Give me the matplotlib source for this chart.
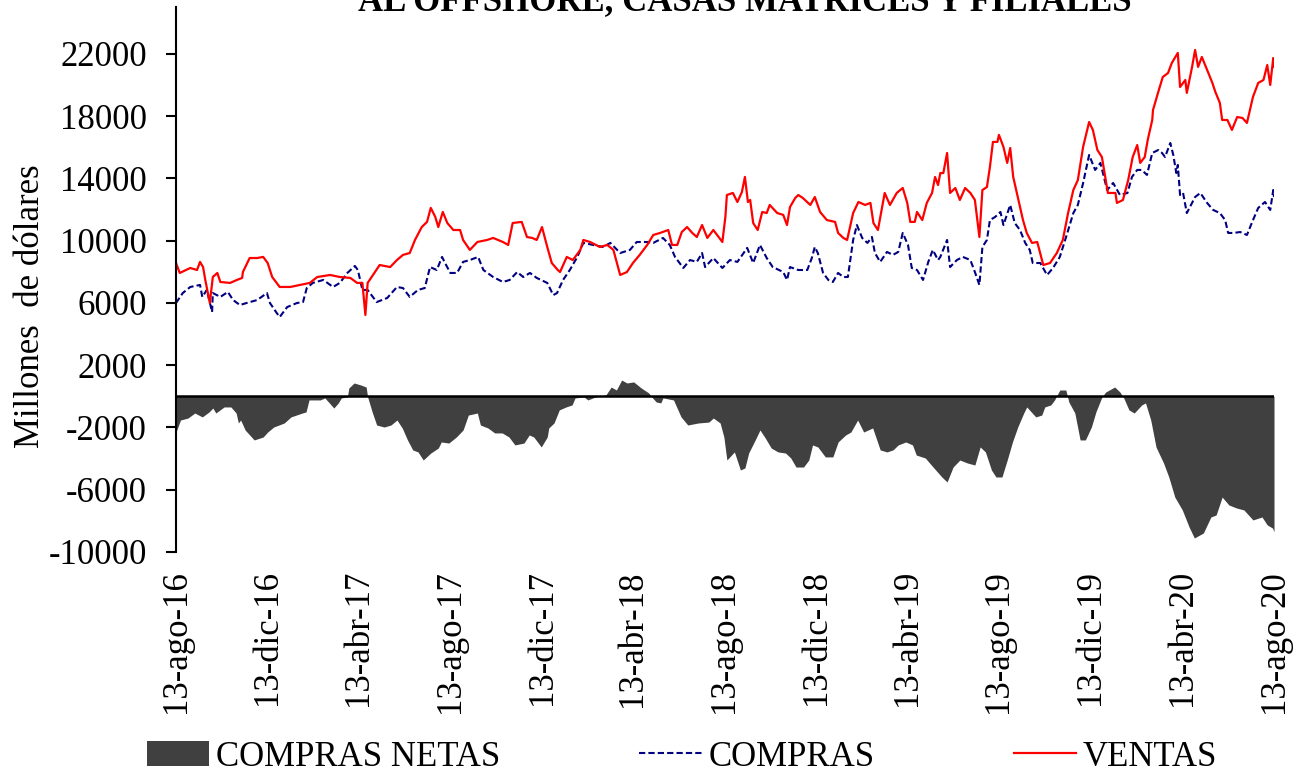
import matplotlib
matplotlib.use("Agg")
import matplotlib.pyplot as plt
import pandas as pd

plt.rcParams['font.family'] = ['Liberation Serif', 'DejaVu Serif']
plt.rcParams['axes.unicode_minus'] = False

# ---- Datos (millones de dólares) ----
ventas_fechas = [
    "2016-08-13", "2016-08-18", "2016-09-01", "2016-09-10", "2016-09-14", "2016-09-18", "2016-09-21",
    "2016-09-27", "2016-10-01", "2016-10-07", "2016-10-11", "2016-10-24", "2016-11-02", "2016-11-09",
    "2016-11-10", "2016-11-19", "2016-11-29", "2016-12-07", "2016-12-13", "2016-12-19", "2016-12-29",
    "2017-01-12", "2017-01-25", "2017-02-07", "2017-02-17", "2017-03-06", "2017-03-19", "2017-04-02",
    "2017-04-11", "2017-04-18", "2017-04-22", "2017-04-25", "2017-05-11", "2017-05-25", "2017-06-03",
    "2017-06-11", "2017-06-20", "2017-06-27", "2017-07-06", "2017-07-13", "2017-07-18", "2017-07-24",
    "2017-07-28", "2017-08-03", "2017-08-09", "2017-08-17", "2017-08-26", "2017-08-30", "2017-09-08",
    "2017-09-18", "2017-10-01", "2017-10-09", "2017-10-22", "2017-10-29", "2017-11-04", "2017-11-16",
    "2017-11-23", "2017-11-30", "2017-12-06", "2017-12-13", "2017-12-20", "2017-12-26", "2018-01-03",
    "2018-01-06", "2018-01-15", "2018-01-23", "2018-02-02", "2018-02-06", "2018-02-15", "2018-02-28",
    "2018-03-10", "2018-03-18", "2018-03-27", "2018-04-05", "2018-04-13", "2018-04-22", "2018-05-02",
    "2018-05-10", "2018-05-19", "2018-05-30", "2018-06-04", "2018-06-11", "2018-06-17", "2018-06-24",
    "2018-07-01", "2018-07-07", "2018-07-14", "2018-07-21", "2018-07-29", "2018-08-10", "2018-08-14",
    "2018-08-16", "2018-08-24", "2018-08-30", "2018-09-05", "2018-09-09", "2018-09-13", "2018-09-16",
    "2018-09-20", "2018-09-26", "2018-10-02", "2018-10-08", "2018-10-12", "2018-10-22", "2018-10-30",
    "2018-11-04", "2018-11-08", "2018-11-15", "2018-11-19", "2018-11-25", "2018-12-05", "2018-12-11",
    "2018-12-18", "2018-12-27", "2019-01-07", "2019-01-11", "2019-01-18", "2019-01-23", "2019-01-31",
    "2019-02-07", "2019-02-16", "2019-02-23", "2019-02-27", "2019-03-05", "2019-03-14", "2019-03-21",
    "2019-03-30", "2019-04-07", "2019-04-13", "2019-04-17", "2019-04-23", "2019-04-26", "2019-05-03",
    "2019-05-09", "2019-05-16", "2019-05-20", "2019-05-24", "2019-05-27", "2019-05-31", "2019-06-05",
    "2019-06-09", "2019-06-16", "2019-06-22", "2019-06-29", "2019-07-06", "2019-07-12", "2019-07-18",
    "2019-07-22", "2019-07-28", "2019-08-01", "2019-08-05", "2019-08-11", "2019-08-13", "2019-08-19",
    "2019-08-24", "2019-08-28", "2019-09-01", "2019-09-07", "2019-09-14", "2019-09-19", "2019-09-26",
    "2019-10-03", "2019-10-11", "2019-10-20", "2019-10-29", "2019-11-06", "2019-11-13", "2019-11-20",
    "2019-11-26", "2019-12-03", "2019-12-11", "2019-12-16", "2019-12-22", "2019-12-28", "2020-01-01",
    "2020-01-05", "2020-01-15", "2020-01-17", "2020-01-25", "2020-02-01", "2020-02-07", "2020-02-13",
    "2020-02-17", "2020-02-23", "2020-02-27", "2020-03-04", "2020-03-05", "2020-03-12", "2020-03-18",
    "2020-03-25", "2020-03-30", "2020-04-03", "2020-04-07", "2020-04-10", "2020-04-17", "2020-04-19",
    "2020-04-26", "2020-04-30", "2020-05-04", "2020-05-09", "2020-05-16", "2020-05-23", "2020-05-27",
    "2020-06-02", "2020-06-05", "2020-06-12", "2020-06-18", "2020-06-25", "2020-07-02", "2020-07-08",
    "2020-07-16", "2020-07-23", "2020-07-30", "2020-08-04", "2020-08-08", "2020-08-12", "2020-08-13",
]
ventas = [
    8570, 7930, 8250, 8120, 8640, 8310, 7480,
    6000, 7670, 7930, 7350, 7290, 7480, 7610,
    7990, 8890, 8890, 8960, 8570, 7670, 7030,
    7030, 7160, 7290, 7670, 7800, 7670, 7610,
    7290, 7290, 5230, 7290, 8440, 8310, 8760,
    9090, 9210, 10050, 10880, 11210, 12110, 11530,
    10880, 11850, 11140, 10690, 10690, 10050, 9410,
    9920, 10050, 10180, 9920, 9730, 11140, 11210,
    10240, 10180, 10050, 10880, 9600, 8570, 8120,
    7990, 8960, 8760, 9410, 10050, 9920, 9600,
    9730, 9410, 7800, 7990, 8570, 9090, 9730,
    10370, 10500, 10690, 9730, 9730, 10560, 10880,
    10500, 10240, 11010, 10180, 10690, 9920, 11530,
    12940, 13070, 12490, 13130, 14100, 12490, 12620,
    11140, 10690, 11850, 11780, 12300, 11780, 11660,
    11010, 12170, 12750, 12940, 12750, 12300, 12810,
    11850, 11330, 11210, 10500, 10180, 10050, 11780,
    12490, 12300, 12430, 11140, 10690, 13070, 12300,
    13070, 13390, 12430, 11210, 11210, 11850, 11330,
    12430, 13070, 14100, 13580, 14350, 14350, 15640,
    13070, 13390, 12620, 13390, 13070, 12620, 10240,
    13260, 13450, 14740, 16350, 16350, 16800, 16030,
    15000, 15960, 14100, 12810, 11330, 10500, 9860,
    9920, 8440, 8570, 9210, 10050, 11780, 13260,
    13900, 16030, 17630, 17120, 15830, 15380, 14230,
    13070, 13070, 12430, 12620, 13900, 15380, 16150,
    15000, 15380, 16480, 17760, 18400, 19560, 20520,
    20780, 21420, 21740, 22070, 19880, 20330, 19500,
    21170, 22260, 21170, 21810, 20970, 20140, 19560,
    18850, 17760, 17760, 17120, 17950, 17890, 17570,
    19240, 20140, 20330, 21290, 20010, 21740, 21170,
]

compras_fechas = [
    "2016-08-13", "2016-08-22", "2016-09-01", "2016-09-14", "2016-09-17", "2016-09-23", "2016-09-30",
    "2016-10-01", "2016-10-11", "2016-10-21", "2016-10-28", "2016-11-06", "2016-11-15", "2016-11-29",
    "2016-12-12", "2016-12-16", "2016-12-25", "2016-12-29", "2017-01-08", "2017-01-21", "2017-01-29",
    "2017-02-03", "2017-02-11", "2017-02-25", "2017-03-10", "2017-03-19", "2017-03-29", "2017-04-08",
    "2017-04-12", "2017-04-18", "2017-04-25", "2017-05-07", "2017-05-21", "2017-06-03", "2017-06-11",
    "2017-06-20", "2017-07-01", "2017-07-10", "2017-07-17", "2017-07-26", "2017-08-02", "2017-08-06",
    "2017-08-13", "2017-08-22", "2017-08-30", "2017-09-08", "2017-09-19", "2017-09-26", "2017-10-09",
    "2017-10-22", "2017-10-31", "2017-11-10", "2017-11-18", "2017-11-27", "2017-12-06", "2017-12-20",
    "2017-12-28", "2018-01-02", "2018-01-10", "2018-01-19", "2018-01-29", "2018-02-06", "2018-02-19",
    "2018-03-04", "2018-03-14", "2018-03-27", "2018-04-09", "2018-04-18", "2018-05-02", "2018-05-10",
    "2018-05-23", "2018-06-01", "2018-06-08", "2018-06-19", "2018-06-28", "2018-07-07", "2018-07-14",
    "2018-07-18", "2018-07-29", "2018-08-10", "2018-08-20", "2018-08-30", "2018-09-12", "2018-09-20",
    "2018-09-29", "2018-10-08", "2018-10-16", "2018-10-30", "2018-11-04", "2018-11-08", "2018-11-19",
    "2018-12-01", "2018-12-07", "2018-12-11", "2018-12-15", "2018-12-22", "2018-12-29", "2019-01-04",
    "2019-01-11", "2019-01-18", "2019-01-24", "2019-01-31", "2019-02-05", "2019-02-12", "2019-02-19",
    "2019-02-25", "2019-03-01", "2019-03-08", "2019-03-17", "2019-03-25", "2019-04-01", "2019-04-07",
    "2019-04-14", "2019-04-19", "2019-04-26", "2019-05-04", "2019-05-11", "2019-05-17", "2019-05-24",
    "2019-05-27", "2019-06-05", "2019-06-09", "2019-06-18", "2019-06-26", "2019-07-06", "2019-07-12",
    "2019-07-18", "2019-07-22", "2019-07-28", "2019-08-01", "2019-08-08", "2019-08-15", "2019-08-19",
    "2019-08-28", "2019-09-03", "2019-09-10", "2019-09-17", "2019-09-23", "2019-09-27", "2019-10-07",
    "2019-10-16", "2019-10-24", "2019-11-02", "2019-11-12", "2019-11-20", "2019-11-26", "2019-12-03",
    "2019-12-11", "2019-12-19", "2019-12-26", "2020-01-04", "2020-01-12", "2020-01-21", "2020-01-31",
    "2020-02-06", "2020-02-13", "2020-02-19", "2020-02-26", "2020-03-04", "2020-03-12", "2020-03-17",
    "2020-03-21", "2020-03-28", "2020-04-01", "2020-04-05", "2020-04-07", "2020-04-10", "2020-04-14",
    "2020-04-19", "2020-04-26", "2020-04-30", "2020-05-07", "2020-05-16", "2020-05-24", "2020-06-02",
    "2020-06-09", "2020-06-13", "2020-06-20", "2020-06-29", "2020-07-08", "2020-07-15", "2020-07-23",
    "2020-08-01", "2020-08-08", "2020-08-12", "2020-08-13",
]
compras = [
    6000, 6640, 7030, 7160, 6390, 6840, 5420,
    6640, 6390, 6710, 6190, 5870, 6000, 6190,
    6640, 6000, 5360, 5100, 5740, 6000, 6060,
    6960, 7290, 7480, 7030, 7290, 7930, 8380,
    8120, 6840, 6840, 6060, 6320, 7030, 6960,
    6390, 6840, 6960, 8310, 8120, 8960, 8570,
    7930, 7930, 8640, 8760, 8960, 8120, 7670,
    7350, 7480, 7990, 7670, 7930, 7610, 7290,
    6510, 6640, 7480, 8120, 8960, 9860, 9730,
    9600, 9860, 9210, 9410, 9920, 9920, 9860,
    10180, 9730, 8960, 8250, 8760, 8640, 9210,
    8310, 8890, 8250, 8760, 8640, 9540, 8570,
    9730, 8890, 8310, 7990, 7480, 8310, 8120,
    8120, 8890, 9600, 9210, 7930, 7480, 7350,
    7930, 7670, 7670, 10050, 11010, 10180, 9860,
    10240, 9210, 8640, 9280, 9090, 9280, 10500,
    9730, 8250, 8120, 7480, 8640, 9410, 8760,
    8960, 10050, 8310, 8760, 8960, 8760, 7990,
    7160, 9600, 10050, 11330, 11530, 11850, 11010,
    12300, 11140, 10690, 9860, 9410, 8570, 8570,
    7800, 8250, 8960, 10500, 11780, 12300, 13710,
    15510, 14550, 15000, 13260, 13710, 12940, 13070,
    14100, 14550, 14550, 14230, 15640, 15830, 15640,
    15380, 16280, 15510, 14350, 14870, 12940, 13070,
    11780, 12430, 12810, 13070, 12430, 11980, 11780,
    11330, 10500, 10500, 10560, 10370, 11210, 12110,
    12490, 11980, 13260, 12810,
]

netas_fechas = [
    "2016-08-13", "2016-08-19", "2016-08-29", "2016-09-07", "2016-09-17", "2016-09-26", "2016-10-01",
    "2016-10-05", "2016-10-16", "2016-10-25", "2016-11-01", "2016-11-04", "2016-11-07", "2016-11-13",
    "2016-11-25", "2016-12-07", "2016-12-13", "2016-12-21", "2017-01-04", "2017-01-13", "2017-01-28",
    "2017-02-02", "2017-02-06", "2017-02-21", "2017-02-27", "2017-03-05", "2017-03-11", "2017-03-17",
    "2017-03-21", "2017-03-29", "2017-03-31", "2017-04-07", "2017-04-16", "2017-04-23", "2017-04-25",
    "2017-05-01", "2017-05-07", "2017-05-17", "2017-05-26", "2017-06-03", "2017-06-10", "2017-06-17",
    "2017-06-24", "2017-07-01", "2017-07-08", "2017-07-18", "2017-07-28", "2017-08-01", "2017-08-11",
    "2017-08-21", "2017-08-30", "2017-09-06", "2017-09-18", "2017-09-22", "2017-10-02", "2017-10-11",
    "2017-10-21", "2017-10-30", "2017-11-07", "2017-11-19", "2017-11-26", "2017-12-02", "2017-12-12",
    "2017-12-20", "2017-12-22", "2017-12-29", "2018-01-05", "2018-01-14", "2018-01-22", "2018-01-26",
    "2018-02-07", "2018-02-12", "2018-02-22", "2018-03-08", "2018-03-15", "2018-03-22", "2018-03-29",
    "2018-04-05", "2018-04-14", "2018-04-24", "2018-05-04", "2018-05-08", "2018-05-14", "2018-05-20",
    "2018-05-23", "2018-06-06", "2018-06-16", "2018-06-25", "2018-07-09", "2018-07-23", "2018-07-29",
    "2018-08-07", "2018-08-12", "2018-08-16", "2018-08-26", "2018-09-03", "2018-09-09", "2018-09-14",
    "2018-09-24", "2018-09-29", "2018-10-06", "2018-10-14", "2018-10-23", "2018-11-02", "2018-11-09",
    "2018-11-16", "2018-11-26", "2018-12-03", "2018-12-08", "2018-12-15", "2018-12-25", "2019-01-04",
    "2019-01-11", "2019-01-21", "2019-01-28", "2019-02-06", "2019-02-14", "2019-02-26", "2019-03-08",
    "2019-03-17", "2019-03-25", "2019-04-01", "2019-04-11", "2019-04-20", "2019-04-25", "2019-05-07",
    "2019-05-15", "2019-05-29", "2019-06-05", "2019-06-13", "2019-06-22", "2019-07-02", "2019-07-12",
    "2019-07-19", "2019-07-26", "2019-08-03", "2019-08-09", "2019-08-17", "2019-08-24", "2019-08-31",
    "2019-09-07", "2019-09-15", "2019-09-19", "2019-10-01", "2019-10-09", "2019-10-13", "2019-10-21",
    "2019-10-26", "2019-11-02", "2019-11-10", "2019-11-14", "2019-11-22", "2019-11-29", "2019-12-06",
    "2019-12-14", "2019-12-20", "2019-12-28", "2020-01-02", "2020-01-14", "2020-01-21", "2020-01-26",
    "2020-02-02", "2020-02-09", "2020-02-19", "2020-02-24", "2020-03-02", "2020-03-09", "2020-03-19",
    "2020-03-26", "2020-04-03", "2020-04-13", "2020-04-22", "2020-04-29", "2020-05-11", "2020-05-21",
    "2020-05-28", "2020-06-05", "2020-06-14", "2020-06-24", "2020-07-04", "2020-07-16", "2020-07-28",
    "2020-08-04", "2020-08-11", "2020-08-13",
]
compras_netas = [
    -2290, -1520, -1390, -1070, -1320, -1000, -750,
    -1070, -680, -680, -1070, -1710, -1520, -2160,
    -2800, -2610, -2290, -1970, -1710, -1320, -1070,
    -1000, -230, -230, -100, -420, -750, -420,
    -100, -40, 540, 860, 730, 600, -40,
    -1000, -1840, -1970, -1840, -1520, -2030, -2800,
    -3440, -3570, -4090, -3640, -3320, -2930, -3000,
    -2610, -2160, -1200, -1070, -1840, -2030, -2350,
    -2350, -2610, -3120, -3000, -2480, -2610, -3250,
    -2610, -2030, -1710, -870, -680, -550, -100,
    -40, -230, -40, 90, 600, 410, 1050,
    860, 930, 540, 220, -40, -360, -420,
    -100, -230, -1320, -1840, -1710, -1650, -1390,
    -1710, -2610, -4090, -3570, -4730, -4600, -3640,
    -2670, -2160, -2670, -3320, -3570, -3640, -3960,
    -4540, -4540, -4090, -3120, -3250, -3890, -3890,
    -2930, -2480, -2290, -1520, -2290, -2030, -3440,
    -3570, -3440, -3120, -2930, -3120, -3770, -3960,
    -4410, -5180, -5500, -4540, -4090, -4280, -4410,
    -3250, -3570, -4730, -5180, -5180, -4090, -2930,
    -1970, -1070, -680, -1320, -1200, -680, -550,
    -230, 410, 410, -360, -1070, -2800, -2800,
    -1970, -1000, -40, 280, 600, 280, -100,
    -870, -1070, -550, -420, -1520, -3250, -4280,
    -5180, -6470, -7300, -8390, -9100, -8780, -7750,
    -7620, -6470, -6980, -7170, -7300, -7940, -7750,
    -8260, -8460, -8700,
]

ticks_fechas = ["2016-08-13", "2016-12-13", "2017-04-13", "2017-08-13", "2017-12-13",
                "2018-04-13", "2018-08-13", "2018-12-13", "2019-04-13", "2019-08-13",
                "2019-12-13", "2020-04-13", "2020-08-13"]
ticks_etiquetas = ["13-ago-16", "13-dic-16", "13-abr-17", "13-ago-17", "13-dic-17",
                   "13-abr-18", "13-ago-18", "13-dic-18", "13-abr-19", "13-ago-19",
                   "13-dic-19", "13-abr-20", "13-ago-20"]
y_ticks = [-10000, -6000, -2000, 2000, 6000, 10000, 14000, 18000, 22000]

# ---- Figura ----
W, H = 1308, 776
fig = plt.figure(figsize=(W / 100, H / 100), dpi=100)
ax = fig.add_axes([176 / W, (H - 552) / H, 1098 / W, 544.7 / H])

fs = 25
ax.fill_between(pd.to_datetime(netas_fechas), compras_netas, 0,
                color='#404040', lw=0, label='COMPRAS NETAS')
ax.plot(pd.to_datetime(compras_fechas), compras, color='#000080', lw=1.5,
        ls=(0, (3, 1.5)), label='COMPRAS')
ax.plot(pd.to_datetime(ventas_fechas), ventas, color='#ff0000', lw=1.6, label='VENTAS')
ax.axhline(0, color='black', lw=1.8, zorder=5)

ax.set_xlim(pd.Timestamp("2016-08-13"), pd.Timestamp("2020-08-13"))
ax.set_ylim(-10000, 25000)
ax.set_yticks(y_ticks)
ax.set_yticklabels([str(v) for v in y_ticks], fontsize=fs)
ax.set_xticks(pd.to_datetime(ticks_fechas))
ax.set_xticklabels(ticks_etiquetas, rotation=90, fontsize=fs)

for s in ['top', 'right', 'bottom']:
    ax.spines[s].set_visible(False)
ax.spines['left'].set_linewidth(1.5)
ax.tick_params(axis='x', length=0, pad=13)
ax.tick_params(axis='y', length=7, width=1.5, pad=14, direction='out')

fig.text(31 / W, 1 - 306 / H, 'Millones  de dólares', rotation=90,
         ha='center', va='center', fontsize=fs)
fig.text(745 / W, 1 - 10.5 / H, 'AL OFFSHORE, CASAS MATRICES Y FILIALES',
         ha='center', va='baseline', fontsize=fs, fontweight='bold')

handles, labels = ax.get_legend_handles_labels()
fig.legend(handles, labels, loc='center', bbox_to_anchor=(682 / W, 1 - 757 / H),
           ncol=3, frameon=False, fontsize=fs, handlelength=1.8,
           handletextpad=0.2, columnspacing=4.0)

fig.savefig('out.png', dpi=100)
